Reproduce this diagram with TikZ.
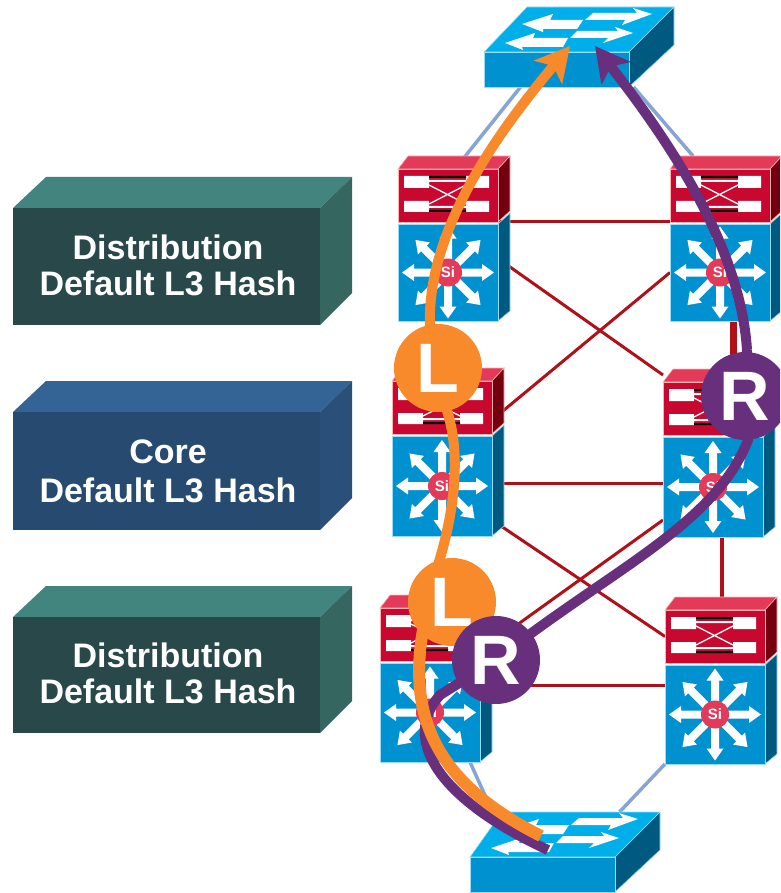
\documentclass[tikz,border=0pt]{standalone}
\usepackage{fontspec}
\setmainfont{Liberation Sans}
\usetikzlibrary{arrows.meta,backgrounds}
\definecolor{redfront}{HTML}{C8082E}
\definecolor{redtop}{HTML}{E43A5A}
\definecolor{redside}{HTML}{74000F}
\definecolor{redline}{HTML}{B01018}
\definecolor{bluefront}{HTML}{0092D0}
\definecolor{bluetop}{HTML}{00AEEA}
\definecolor{blueside}{HTML}{00597F}
\definecolor{linkblue}{HTML}{86A4D4}
\definecolor{orangepath}{HTML}{F88A2C}
\definecolor{purplepath}{HTML}{68307C}
\definecolor{distfront}{HTML}{28484A}
\definecolor{disttop}{HTML}{42857F}
\definecolor{distside}{HTML}{366660}
\definecolor{corefront}{HTML}{274B70}
\definecolor{coretop}{HTML}{336495}
\definecolor{coreside}{HTML}{2A507A}
\tikzset{
  redbox/.style={draw=red!30!white,line width=0.8pt,fill=redfront,inner sep=0pt,outer sep=0pt,minimum width=100pt,minimum height=53pt,anchor=north west},
  bluebox/.style={draw=cyan!40!white,line width=0.8pt,fill=bluefront,inner sep=0pt,outer sep=0pt,minimum width=100pt,anchor=north west},
  swfront/.style={draw=cyan!40!white,line width=0.8pt,fill=bluefront,inner sep=0pt,outer sep=0pt,minimum width=145pt,minimum height=35pt,anchor=north west},
  redface/.style={draw=red!30!white,line width=0.6pt},
  blueface/.style={draw=cyan!40!white,line width=0.6pt},
  sinode/.style={circle,fill=redtop,inner sep=0pt,minimum size=28pt,text=white,font=\fontsize{15}{15}\selectfont\bfseries},
  labelbox/.style={inner sep=0pt,outer sep=0pt,minimum width=307pt,anchor=north west},
  labeltext/.style={inner sep=0pt,align=center,text=white,font=\fontsize{34}{36}\selectfont\bfseries},
  lcircle/.style={circle,fill=orangepath,inner sep=0pt,minimum size=88pt,text=white,font=\fontsize{70}{70}\selectfont\bfseries},
  rcircle/.style={circle,fill=purplepath,inner sep=0pt,minimum size=88pt,text=white,font=\fontsize{70}{70}\selectfont\bfseries},
  redlink/.style={draw=redline,line width=3pt},
  bluelink/.style={draw=linkblue,line width=3.5pt},
  route/.style={line width=10pt},
  routehead/.style={-{Stealth[length=34pt,width=36pt,inset=8pt]}}
}
% name, x, y, blue height
\newcommand{\netdev}[4]{%
\begin{scope}[shift={(#2,#3)}]
  \fill[redtop,redface] (0,0) -- (10,-13) -- (112,-13) -- (100,0) -- cycle;
  \fill[redside,redface] (100,0) -- (112,-13) -- (112,42) -- (100,53) -- cycle;
  \fill[blueside,blueface] (100,55) -- (112,44) -- (112,#4+45) -- (100,#4+55) -- cycle;
  \node[bluebox,minimum height=#4 pt] (#1-b) at (0,55) {};
  \node[redbox] (#1-r) at (0,0) {};
  \fill[white] (6,7) rectangle (31,19) (68,7) rectangle (91,19);
  \fill[white] (6,32) rectangle (31,43) (68,32) rectangle (91,43);
  \fill[black] (31,7) rectangle (68,9) (31,41) rectangle (68,43);
  \fill[white] (31,11) rectangle (68,13) (31,37) rectangle (68,39);
  \draw[white,line width=1.3pt] (31,16) -- (68,35) (31,35) -- (68,16);
  \foreach \a in {0,45,...,315}{
    \fill[white,shift={(50,#4/2+55)},rotate=\a] (8,-4) -- (34,-4) -- (34,-8.5) -- (46,0) -- (34,8.5) -- (34,4) -- (8,4) -- cycle;
  }
  \node[sinode] (#1-si) at (50,#4/2+55) {Si};
\end{scope}}
% name, x, y, back-left offset
\newcommand{\netswitch}[4]{%
\begin{scope}[shift={(#2,#3)}]
  \fill[bluetop,blueface] (0,0) -- (#4,-45) -- (190,-45) -- (145,0) -- cycle;
  \fill[blueside,blueface] (145,0) -- (190,-45) -- (190,-7) -- (145,35) -- cycle;
  \node[swfront] (#1) at (0,0) {};
  \fill[white] (38,-28) -- (69,-38) -- (66,-32) -- (99,-32) -- (93,-23) -- (59,-23) -- (59,-20) -- cycle;
  \fill[white] (21,-9) -- (51,-19) -- (49,-14) -- (84,-14) -- (79,-5) -- (38,-5) -- (39,-2) -- cycle;
  \fill[white] (168,-38) -- (149,-44) -- (153,-39) -- (109,-39) -- (101,-32) -- (141,-32) -- (138,-27) -- cycle;
  \fill[white] (149,-19) -- (131,-25) -- (134,-21) -- (93,-21) -- (86,-14) -- (124,-14) -- (119,-9) -- cycle;
\end{scope}}
\begin{document}
\begin{tikzpicture}[x=1pt,y=-1pt]
\clip (0,0) rectangle (780,893);
% label boxes
\fill[disttop] (13,208) -- (46,177) -- (352,177) -- (320,208) -- cycle;
\fill[distside] (320,208) -- (352,177) -- (352,293) -- (320,325) -- cycle;
\node[labelbox,fill=distfront,minimum height=117pt] (boxtop) at (13,208) {};
\node[labeltext] (texttop) at ([shift={(1.5,-1.5)}]boxtop.center) {Distribution\\Default L3 Hash};
\fill[coretop] (13,412) -- (46,381) -- (352,381) -- (320,412) -- cycle;
\fill[coreside] (320,412) -- (352,381) -- (352,498) -- (320,530) -- cycle;
\node[labelbox,fill=corefront,minimum height=118pt] (boxcore) at (13,412) {};
\node[labeltext,font=\fontsize{34}{39}\selectfont\bfseries] (textcore) at ([shift={(1.5,0.5)}]boxcore.center) {Core\\Default L3 Hash};
\fill[disttop] (13,617) -- (46,586) -- (352,586) -- (320,617) -- cycle;
\fill[distside] (320,617) -- (352,586) -- (352,701) -- (320,733) -- cycle;
\node[labelbox,fill=distfront,minimum height=116pt] (boxbot) at (13,617) {};
\node[labeltext] (textbot) at ([shift={(1.5,-2)}]boxbot.center) {Distribution\\Default L3 Hash};
% devices
\netswitch{swtop}{484}{52}{43}
\netswitch{swbot}{470}{857}{32}
\netdev{TL}{398}{169}{97}
\netdev{TR}{670}{169}{97}
\netdev{CL}{392}{381}{100}
\netdev{CR}{663}{382}{100}
\netdev{BL}{380}{608}{99}
\netdev{BR}{665}{610}{99}
% links
\begin{scope}[on background layer]
  \draw[bluelink] ([shift={(-36,0)}]swtop.south) -- ([shift={(7,0)}]TL-r.north);
  \draw[bluelink] ([shift={(77,0)}]swtop.south) -- ([shift={(-27,-13)}]TR-r.north);
  \draw[bluelink] ([shift={(40,0)}]BL-b.south) -- ([shift={(-50,-45)}]swbot.north);
  \draw[bluelink] (BR-b.south west) -- ([shift={(77,-45)}]swbot.north);
  \draw[redlink] (TL-r.south east) -- (TR-r.south west);
  \draw[redlink] ([shift={(0,-14)}]TL-b.east) -- ([shift={(0,-7)}]CR-r.north west);
  \draw[redlink] (TR-b.west) -- ([shift={(0,-16)}]CL-b.north east);
  \draw[redlink] ([shift={(0,-3)}]CL-b.east) -- ([shift={(0,-4)}]CR-b.west);
  \draw[redlink,line width=7pt] ([shift={(13,0)}]TR-b.south) -- ([shift={(20,0)}]CR-r.north);
  \draw[redlink,line width=4pt] ([shift={(9,0)}]CR-b.south) -- ([shift={(7,-13)}]BR-r.north);
  \draw[redlink] ([shift={(0,34)}]CL-b.east) -- (BR-r.west);
  \draw[redlink] ([shift={(0,33)}]CR-b.west) -- ([shift={(0,17)}]BL-r.east);
  \draw[redlink] ([shift={(0,24)}]BL-r.south east) -- ([shift={(0,22)}]BR-r.south west);
\end{scope}
% route points
\coordinate (routeL1) at (438,368);
\coordinate (routeL2) at (452,602);
\coordinate (routeR1) at (745,396);
\coordinate (routeR2) at (496,660);
\coordinate (ostart) at (541,836);
\coordinate (pstart) at (548,850);
\coordinate (otip) at (570,46);
\coordinate (ptip) at (595,46);
\coordinate (oa) at (423,630);
\coordinate (ob) at (438,565);
\coordinate (oc) at (445,405);
\coordinate (od) at (430,330);
\coordinate (pa) at (440,695);
\coordinate (pb) at (748,440);
\coordinate (pc) at (747,350);
% purple routes
\draw[purplepath,route] (pstart) .. controls (440,800) and (400,740) .. (pa) -- (routeR2);
\draw[purplepath,route] (routeR2) .. controls (610,570) and (715,525) .. (pb) -- (routeR1);
\draw[purplepath,route] (routeR1) -- (pc);
\draw[purplepath,route,routehead] (pc) .. controls (740,240) and (660,130) .. (ptip);
% orange route
\draw[orangepath,route,line width=12pt] (ostart) .. controls (450,790) and (405,730) .. (oa);
\draw[orangepath,route] (routeL2) -- (ob) .. controls (455,510) and (462,450) .. (oc) -- (routeL1);
\draw[orangepath,route] (routeL1) -- (od);
\draw[orangepath,route,routehead] (od) .. controls (425,230) and (500,130) .. (otip);
% circles
\node[lcircle] (L1) at (routeL1) {L};
\node[lcircle] (L2) at (routeL2) {L};
\node[rcircle] (R1) at (routeR1) {R};
\node[rcircle] (R2) at (routeR2) {R};
\end{tikzpicture}
\end{document}
